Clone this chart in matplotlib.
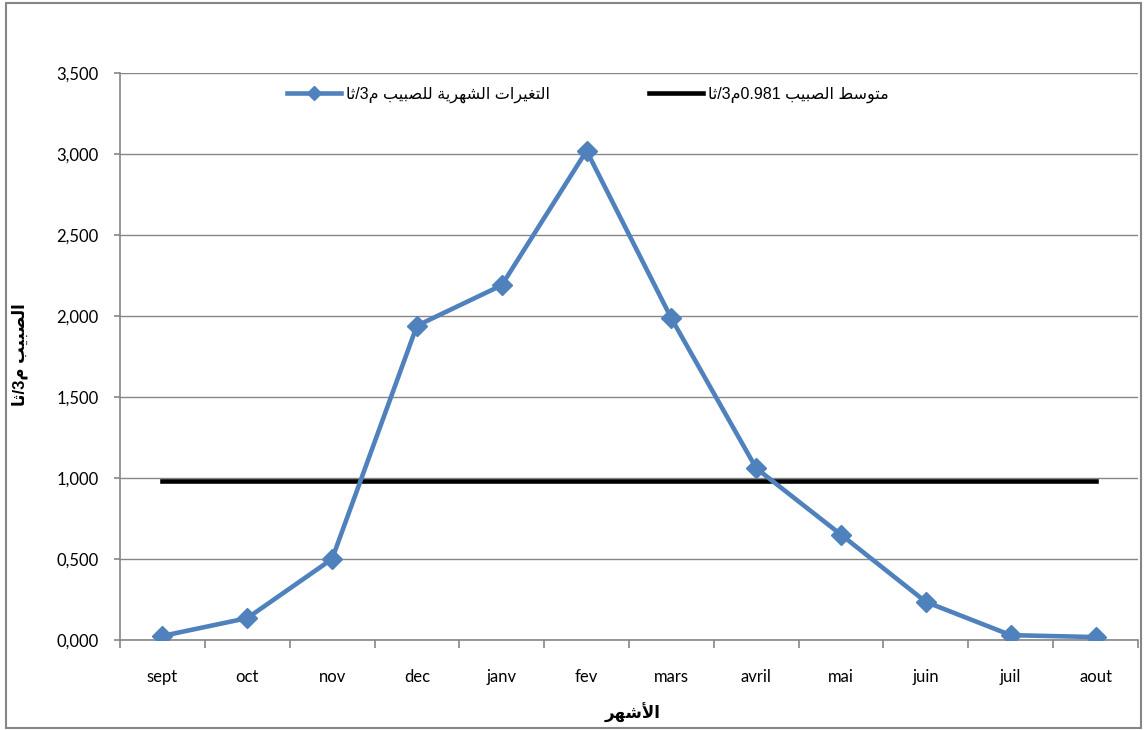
import re
import matplotlib
matplotlib.use("Agg")
import matplotlib.pyplot as plt
from matplotlib.patches import Rectangle
from matplotlib.ticker import FixedLocator, FuncFormatter

# ---- data ----
months = ["sept", "oct", "nov", "dec", "janv", "fev", "mars", "avril", "mai", "juin", "juil", "aout"]
flow = [0.025, 0.135, 0.500, 1.940, 2.190, 3.020, 1.985, 1.060, 0.650, 0.235, 0.030, 0.018]
mean_flow = 0.981
y_ticks = [0.0, 0.5, 1.0, 1.5, 2.0, 2.5, 3.0, 3.5]

label_series = "التغيرات الشهرية للصبيب م3/ثا"
label_mean = "متوسط الصبيب 0.981م3/ثا"
label_y = "الصبيب م3/ثا"
label_x = "الأشهر"

# ---- minimal Arabic shaping (presentation forms) + right-to-left ordering ----
AR_FORMS = {
    'ا': ('\uFE8D', '\uFE8E', None, None),
    'أ': ('\uFE83', '\uFE84', None, None),
    'ب': ('\uFE8F', '\uFE90', '\uFE91', '\uFE92'),
    'ة': ('\uFE93', '\uFE94', None, None),
    'ت': ('\uFE95', '\uFE96', '\uFE97', '\uFE98'),
    'ث': ('\uFE99', '\uFE9A', '\uFE9B', '\uFE9C'),
    'ر': ('\uFEAD', '\uFEAE', None, None),
    'س': ('\uFEB1', '\uFEB2', '\uFEB3', '\uFEB4'),
    'ش': ('\uFEB5', '\uFEB6', '\uFEB7', '\uFEB8'),
    'ص': ('\uFEB9', '\uFEBA', '\uFEBB', '\uFEBC'),
    'ط': ('\uFEC1', '\uFEC2', '\uFEC3', '\uFEC4'),
    'غ': ('\uFECD', '\uFECE', '\uFECF', '\uFED0'),
    'ل': ('\uFEDD', '\uFEDE', '\uFEDF', '\uFEE0'),
    'م': ('\uFEE1', '\uFEE2', '\uFEE3', '\uFEE4'),
    'ه': ('\uFEE9', '\uFEEA', '\uFEEB', '\uFEEC'),
    'و': ('\uFEED', '\uFEEE', None, None),
    'ي': ('\uFEF1', '\uFEF2', '\uFEF3', '\uFEF4'),
    'لا': ('\uFEFB', '\uFEFC', None, None),
    'لأ': ('\uFEF7', '\uFEF8', None, None),
}


def shape(text):
    units, i = [], 0
    while i < len(text):
        pair = text[i:i + 2]
        if pair in AR_FORMS:
            units.append(pair)
            i += 2
        else:
            units.append(text[i])
            i += 1
    out = []
    for k, u in enumerate(units):
        f = AR_FORMS.get(u)
        if f is None:
            out.append(u)
            continue
        prev = units[k - 1] if k > 0 else None
        nxt = units[k + 1] if k + 1 < len(units) else None
        join_prev = prev in AR_FORMS and AR_FORMS[prev][2] is not None
        join_next = f[2] is not None and nxt in AR_FORMS
        if join_prev and join_next:
            out.append(f[3])
        elif join_prev:
            out.append(f[1])
        elif join_next:
            out.append(f[2])
        else:
            out.append(f[0])
    return ''.join(out)


def rtl(text):
    s = shape(text)
    runs = re.findall(r'[0-9.,]+|[^0-9.,]+', s)
    return ''.join(r if r[0].isdigit() else r[::-1] for r in reversed(runs))


# ---- figure ----
W, H, DPI = 1146, 730, 100
fig = plt.figure(figsize=(W / DPI, H / DPI), dpi=DPI)
fig.patch.set_facecolor("white")

ax = fig.add_axes([120 / W, (H - 640) / H, (1138 - 120) / W, (640 - 73) / H])

x = list(range(len(months)))
blue = "#4F81BD"
ax.plot(x, flow, color=blue, lw=3.3, marker="D", markersize=10,
        markerfacecolor=blue, markeredgecolor=blue, zorder=4,
        label=rtl(label_series))
ax.plot([x[0], x[-1]], [mean_flow, mean_flow], color="black", lw=3.3,
        zorder=3, label=rtl(label_mean))

ax.set_xlim(-0.5, len(months) - 0.5)
ax.set_ylim(y_ticks[0], y_ticks[-1])

# axes styling
for side in ("top", "right"):
    ax.spines[side].set_visible(False)
for side in ("left", "bottom"):
    ax.spines[side].set_color("#868686")
    ax.spines[side].set_linewidth(1.2)

ax.yaxis.set_major_locator(FixedLocator(y_ticks))
ax.yaxis.set_major_formatter(FuncFormatter(lambda v, p: f"{v:.3f}".replace(".", ",")))
ax.grid(axis="y", color="#868686", lw=1.0, zorder=0)
ax.set_axisbelow(True)

tick_family = ["Lato", "DejaVu Sans"]
tick_size = 12
ax.tick_params(axis="y", length=4.5, width=1.2, color="#868686", pad=11)
for lbl in ax.get_yticklabels():
    lbl.set_fontfamily(tick_family)
    lbl.set_fontsize(tick_size)

ax.set_xticks(x)
ax.set_xticklabels(months, fontfamily=tick_family, fontsize=tick_size)
ax.tick_params(axis="x", which="major", length=0, pad=21)
ax.set_xticks([i + 0.5 for i in x[:-1]] + [-0.5, len(months) - 0.5], minor=True)
ax.tick_params(axis="x", which="minor", length=6, width=1.2, color="#868686")

arabic_font = ["Liberation Sans", "DejaVu Sans"]
fig.text(20 / W, (H - 355) / H, rtl(label_y), rotation=90, ha="center", va="center",
         fontsize=12, fontweight="bold", family=arabic_font)
fig.text(633 / W, (H - 713) / H, rtl(label_x), ha="center", va="center",
         fontsize=12, fontweight="bold", family=arabic_font)

leg = fig.legend(loc="center", bbox_to_anchor=(588 / W, (H - 95) / H), ncol=2,
                 frameon=False, handlelength=3.4, handletextpad=0.3,
                 columnspacing=6.2, borderpad=0.0, markerscale=0.75,
                 prop=dict(family=arabic_font, size=11.5))

# outer chart border
fig.patches.append(Rectangle((6 / W, 2 / H), (1141 - 6) / W, (727 - 2) / H,
                             transform=fig.transFigure, fill=False,
                             edgecolor="#868686", lw=1.5))

fig.savefig("out.png", dpi=DPI, facecolor="white")
